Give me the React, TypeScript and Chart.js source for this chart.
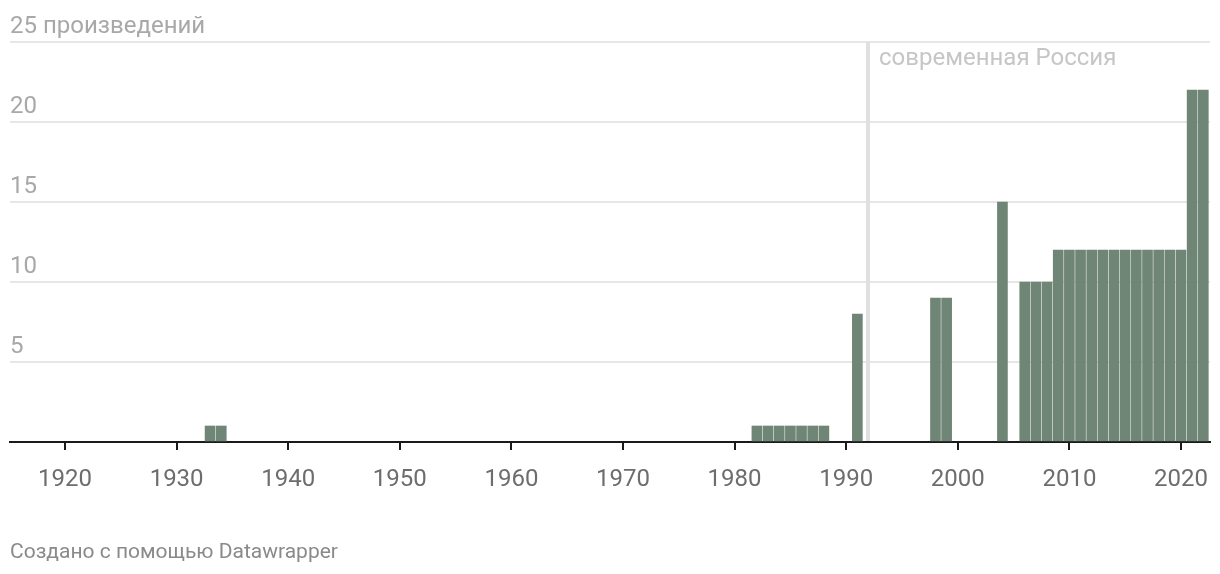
import React, { useEffect, useRef } from "react";
import { Chart, registerables } from "chart.js";

Chart.register(...registerables);

// ---- data ----
const years = [
  1933, 1934,
  1982, 1983, 1984, 1985, 1986, 1987, 1988,
  1991,
  1998, 1999,
  2004,
  2006, 2007, 2008,
  2009, 2010, 2011, 2012, 2013, 2014, 2015, 2016, 2017, 2018, 2019, 2020,
  2021, 2022,
];
const counts = [
  1, 1,
  1, 1, 1, 1, 1, 1, 1,
  8,
  9, 9,
  15,
  10, 10, 10,
  12, 12, 12, 12, 12, 12, 12, 12, 12, 12, 12, 12,
  22, 22,
];
const xTickYears = [1920, 1930, 1940, 1950, 1960, 1970, 1980, 1990, 2000, 2010, 2020];
const yTickValues = [0, 5, 10, 15, 20, 25];
const yUnitLabel = "произведений";
const xMin = 1915.07;
const xMax = 2022.6;
const highlightYear = 1991.95;
const highlightLabel = "современная Россия";
const footerText = "Создано с помощью Datawrapper";

const FONT = "Roboto, 'Noto Sans', sans-serif";
const BAR_COLOR = "#6f8576";

const highlightPlugin = {
  id: "highlightLine",
  beforeDatasetsDraw(chart: any) {
    const { ctx, chartArea, scales } = chart;
    const x = scales.x.getPixelForValue(highlightYear);
    ctx.save();
    ctx.strokeStyle = "#e0e0e0";
    ctx.lineWidth = 4;
    ctx.beginPath();
    ctx.moveTo(x, chartArea.top);
    ctx.lineTo(x, chartArea.bottom - 1);
    ctx.stroke();
    ctx.font = `24px ${FONT}`;
    ctx.fillStyle = "#c6c6c6";
    ctx.textBaseline = "middle";
    ctx.textAlign = "left";
    ctx.fillText(highlightLabel, x + 11, chartArea.top + 17);
    ctx.restore();
  },
};

export default function App() {
  const canvasRef = useRef<HTMLCanvasElement | null>(null);

  useEffect(() => {
    if (!canvasRef.current) return;
    const chart = new Chart(canvasRef.current, {
      type: "bar",
      data: {
        datasets: [
          {
            data: years.map((y, i) => ({ x: y, y: counts[i] })),
            backgroundColor: BAR_COLOR,
            borderWidth: 0,
            barThickness: 10,
          },
        ],
      },
      options: {
        animation: false,
        responsive: false,
        maintainAspectRatio: false,
        devicePixelRatio: 1,
        layout: { padding: { top: 42, left: 10, right: 10, bottom: 0 } },
        plugins: {
          legend: { display: false },
          tooltip: { enabled: false },
          title: { display: false },
        },
        scales: {
          x: {
            type: "linear",
            min: xMin,
            max: xMax,
            offset: false,
            afterFit: (scale: any) => {
              scale.height = 132;
              scale.paddingLeft = 0;
              scale.paddingRight = 0;
            },
            afterBuildTicks: (scale: any) => {
              scale.ticks = xTickYears.map((v) => ({ value: v }));
            },
            grid: {
              display: true,
              offset: false,
              drawOnChartArea: false,
              drawTicks: true,
              tickLength: 8,
              color: "#1a1a1a",
              lineWidth: 2,
            },
            border: { display: true, color: "#1a1a1a", width: 2 },
            ticks: {
              autoSkip: false,
              maxRotation: 0,
              padding: 16,
              color: "#6d6d6d",
              font: { family: FONT, size: 24 },
              callback: (v: any) => String(v),
            },
          },
          y: {
            type: "linear",
            position: "left",
            min: 0,
            max: 25,
            afterFit: (scale: any) => {
              scale.width = 0;
              scale.paddingTop = 0;
              scale.paddingBottom = 0;
            },
            afterBuildTicks: (scale: any) => {
              scale.ticks = yTickValues.map((v) => ({ value: v }));
            },
            grid: {
              drawTicks: false,
              lineWidth: 2,
              color: (c: any) => (c.tick && c.tick.value === 0 ? "rgba(0,0,0,0)" : "#e6e6e6"),
            },
            border: { display: false },
            ticks: {
              mirror: true,
              padding: 0,
              labelOffset: -15,
              color: "#a8a8a8",
              font: { family: FONT, size: 24 },
              callback: (v: any) => {
                if (v === 0) return "";
                if (v === 25) return `${v} ${yUnitLabel}`;
                return String(v);
              },
            },
          },
        },
      },
      plugins: [highlightPlugin],
    });
    return () => chart.destroy();
  }, []);

  return (
    <div style={{ position: "absolute", left: 0, top: 0, width: 1220, height: 574, background: "#fff" }}>
      <canvas ref={canvasRef} width={1220} height={574} style={{ display: "block" }} />
      <div
        style={{
          position: "absolute",
          left: 10,
          top: 539,
          fontFamily: FONT,
          fontSize: 21,
          lineHeight: "24px",
          color: "#8a8a8a",
        }}
      >
        {footerText}
      </div>
    </div>
  );
}
